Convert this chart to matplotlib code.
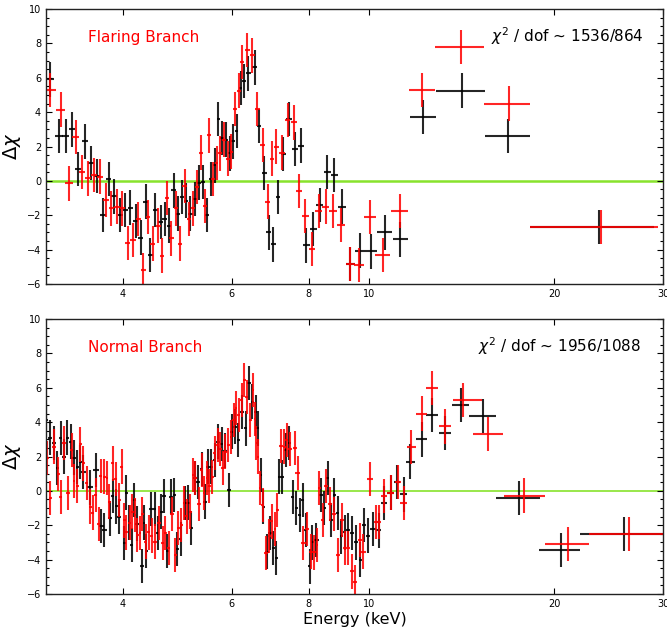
import numpy as np
import matplotlib
matplotlib.use("Agg")
import matplotlib.pyplot as plt
from matplotlib.ticker import MultipleLocator, NullLocator, FixedLocator, FixedFormatter

# ---- Flaring branch (top panel) ----
fb_black_e = [3.04, 3.15, 3.23, 3.31, 3.38, 3.47, 3.55, 3.63, 3.71, 3.79, 3.87, 3.96,
              4.03, 4.11, 4.19, 4.27, 4.35, 4.43, 4.51, 4.60, 4.67, 4.75, 4.83, 4.91,
              4.98, 5.06, 5.14, 5.23, 5.31, 5.39, 5.47, 5.56, 5.63, 5.71, 5.79, 5.87,
              5.95, 6.03, 6.11, 6.20, 6.29, 6.38, 6.54, 6.64, 6.77, 6.89, 7.01, 7.13,
              7.27, 7.42, 7.59, 7.76, 7.93, 8.13, 8.34, 8.57, 8.80, 9.04, 9.34, 9.69,
              10.10, 10.62, 11.25]
fb_black_r = [5.9, 2.6, 2.6, 3.0, 0.7, 2.3, 1.05, 0.3, -2.0, 0.1, -0.9, -2.0,
              -1.7, -1.55, -2.35, -3.3, -1.2, -4.3, -1.7, -2.4, -2.2, -2.6, -0.55, -1.9,
              -0.95, -1.15, -1.9, -1.05, -0.1, -0.05, -2.0, 0.1, 0.9, 3.6, 2.5, 2.4,
              1.6, 2.3, 2.9, 5.4, 5.8, 6.25, 6.6, 3.2, 0.45, -3.0, -3.7, -0.95,
              1.55, 3.6, 1.85, 2.05, -3.75, -2.8, -1.4, 0.5, 0.35, -1.5, -4.85, -4.05,
              -4.1, -3.0, -3.4]
fb_black_wide_e = [12.26, 14.16, 16.82, 23.6]
fb_black_wide_r = [3.7, 5.25, 2.6, -2.7]
fb_black_wide_lo = [11.69, 12.86, 15.45, 18.24]
fb_black_wide_hi = [12.86, 15.45, 18.24, 29.0]

fb_red_e = [3.05, 3.17, 3.27, 3.35, 3.43, 3.51, 3.59, 3.67, 3.75, 3.83, 3.91, 3.99,
            4.07, 4.15, 4.23, 4.31, 4.39, 4.47, 4.56, 4.63, 4.71, 4.79, 4.87, 4.95,
            5.03, 5.11, 5.19, 5.27, 5.35, 5.43, 5.51, 5.59, 5.67, 5.75, 5.83, 5.91,
            5.99, 6.07, 6.16, 6.24, 6.36, 6.48, 6.60, 6.73, 6.86, 6.97, 7.09, 7.24,
            7.39, 7.56, 7.72, 7.90, 8.10, 8.30, 8.52, 8.75, 9.02, 9.34, 9.64, 10.06,
            10.55, 11.23]
fb_red_r = [5.3, 4.15, -0.15, 2.55, 0.5, 0.15, 0.35, 0.25, -1.1, -1.6, -1.5, -1.6,
            -3.6, -3.45, -2.2, -5.2, -2.1, -3.65, -2.6, -4.35, -1.0, -3.35, -1.6, -3.65,
            -0.3, -2.2, -1.6, -0.35, 1.65, -1.45, 2.65, 0.1, 1.05, 1.6, 2.4, 1.3,
            1.7, 4.2, 5.25, 6.9, 7.6, 7.3, 4.2, 2.1, -1.2, 1.3, 2.0, 1.65,
            3.55, 3.4, -0.6, -2.05, -3.95, -1.75, -1.5, -1.75, -2.55, -4.85, -4.9, -2.1,
            -4.3, -1.75]
fb_red_wide_e = [12.21, 14.10, 16.86, 23.8]
fb_red_wide_r = [5.3, 7.8, 4.5, -2.7]
fb_red_wide_lo = [11.62, 12.81, 15.39, 18.24]
fb_red_wide_hi = [12.81, 15.39, 18.24, 29.5]

# ---- Normal branch (bottom panel) ----
nb_black_e = [3.00, 3.05, 3.09, 3.13, 3.17, 3.21, 3.25, 3.29, 3.33, 3.37, 3.41, 3.45,
              3.53, 3.61, 3.69, 3.73, 3.81, 3.85, 3.90, 3.94, 4.02, 4.05, 4.09, 4.13,
              4.17, 4.21, 4.29, 4.33, 4.36, 4.44, 4.50, 4.55, 4.61, 4.66, 4.72, 4.78,
              4.84, 4.90, 4.96, 5.03, 5.10, 5.16, 5.23, 5.29, 5.36, 5.43, 5.49, 5.56,
              5.63, 5.70, 5.78, 5.85, 5.94, 6.00, 6.07, 6.15, 6.24, 6.32, 6.40, 6.48,
              6.56, 6.62, 6.69, 6.75, 6.84, 6.92, 7.00, 7.08, 7.16, 7.25, 7.34, 7.44,
              7.53, 7.64, 7.73, 7.82, 7.91, 8.02, 8.11, 8.23, 8.37, 8.48, 8.58, 8.69,
              8.80, 8.91, 9.03, 9.14, 9.25, 9.39, 9.55, 9.70, 9.82, 9.98, 10.16, 10.38,
              10.59, 10.86, 11.12, 11.40, 11.69, 12.19, 12.68, 13.28]
nb_black_r = [4.13, 3.1, 2.77, 1.32, 3.06, 2.0, 3.1, 2.87, 1.94, 1.38, 1.67, 1.1,
              0.2, 1.22, -2.03, -2.27, -1.6, -0.3, -0.9, -1.5, -3.05, -0.1, -1.85, -3.15,
              -0.52, -1.9, -4.36, -1.85, -3.5, -1.07, -1.07, -2.46, -1.2, -0.3, -3.5, -0.33,
              -0.23, -3.4, -2.8, -0.7, -0.68, -2.17, 0.74, 0.5, 1.26, -0.62, 1.41, 1.41,
              1.8, 2.87, 2.73, 2.34, 0.06, 3.45, 3.74, 2.96, 4.6, 3.64, 6.26, 5.2,
              4.6, 3.64, 0.93, -0.91, -3.53, -2.46, -3.33, -3.91, 0.83, 0.79, 2.38, 2.77,
              -0.37, -1.0, -1.4, -0.52, -2.27, -4.4, -3.0, -2.85, -0.23, -1.0, 0.74, -1.69,
              -0.23, -1.3, -2.65, -2.42, -2.27, -2.46, -3.0, -4.0, -2.0, -2.6, -2.2, -2.3,
              -0.7, -0.1, 0.5, -0.2, 1.7, 3.0, 4.4, 3.35]
nb_black_wide_e = [14.11, 15.35, 17.50, 20.47, 25.89]
nb_black_wide_r = [5.0, 4.35, -0.4, -3.45, -2.5]
nb_black_wide_lo = [13.64, 14.57, 16.10, 18.90, 22.00]
nb_black_wide_hi = [14.57, 16.10, 18.94, 22.00, 30.0]

nb_red_e = [3.01, 3.05, 3.09, 3.14, 3.17, 3.21, 3.26, 3.30, 3.33, 3.37, 3.41, 3.45,
            3.49, 3.54, 3.57, 3.61, 3.65, 3.68, 3.73, 3.77, 3.80, 3.85, 3.89, 3.94,
            3.98, 4.02, 4.05, 4.10, 4.14, 4.18, 4.22, 4.26, 4.30, 4.35, 4.40, 4.45,
            4.51, 4.58, 4.64, 4.68, 4.74, 4.80, 4.86, 4.91, 4.97, 5.02, 5.07, 5.14,
            5.19, 5.24, 5.31, 5.36, 5.41, 5.47, 5.52, 5.58, 5.63, 5.69, 5.75, 5.80,
            5.86, 5.92, 5.98, 6.04, 6.10, 6.16, 6.23, 6.29, 6.35, 6.43, 6.50, 6.55,
            6.58, 6.62, 6.67, 6.73, 6.82, 6.90, 6.97, 7.05, 7.11, 7.21, 7.30, 7.37,
            7.46, 7.60, 7.67, 7.84, 7.94, 8.07, 8.17, 8.25, 8.32, 8.42, 8.53, 8.67,
            8.78, 8.91, 9.05, 9.14, 9.25, 9.39, 9.51, 9.70, 9.80, 10.05, 10.27, 10.39,
            10.59, 10.86, 11.16, 11.40, 11.73, 12.19, 12.68, 13.30]
nb_red_r = [1.92, -0.4, 2.58, 0.97, -0.37, 2.77, -0.14, 2.38, 0.58, 0.29, 2.7, 1.6,
            0.45, -0.91, -1.26, -0.23, -1.92, 0.87, 0.83, 0.74, -0.62, 1.6, 0.68, -0.52,
            1.41, -1.72, -2.42, -1.84, -1.2, -1.4, -2.56, -2.46, -1.34, -2.95, -2.42, -2.6,
            -2.95, -1.88, -3.04, -2.46, -3.33, -1.34, -3.72, -2.17, -1.98, -0.72, -1.49, -1.2,
            0.93, 0.74, -0.78, 1.22, -0.14, 0.74, 0.29, 0.79, 2.19, 2.67, 2.42, 1.32,
            2.29, 2.67, 3.12, 4.13, 4.81, 4.42, 5.29, 6.45, 5.48, 4.13, 5.87, 4.2,
            2.77, 2.0, 0.16, -0.81, -3.62, -2.62, -1.78, -2.23, -1.1, 2.62, 2.58, 2.97,
            2.42, 2.48, 1.03, -3.04, -2.23, -3.53, -3.58, -3.14, 0.16, -1.69, 0.29, -0.76,
            -1.34, -3.72, -1.69, -3.33, -3.33, -4.69, -5.33, -2.85, -3.53, 0.7, -1.8, -1.8,
            -0.3, -0.1, 0.5, -0.7, 2.55, 4.5, 6.0, 3.75]
nb_red_wide_e = [14.24, 15.61, 17.84, 21.03, 26.38]
nb_red_wide_r = [5.3, 3.3, -0.27, -3.1, -2.5]
nb_red_wide_lo = [13.72, 14.75, 16.55, 19.28, 22.79]
nb_red_wide_hi = [15.26, 16.51, 19.28, 22.79, 29.97]

xticks = [4, 6, 8, 10, 20, 30]
xtick_labels = ["4", "6", "8", "10", "20", "30"]


def draw_series(ax, e, r, we, wr, wlo, whi, color):
    e = np.array(e)
    # contiguous bins: half the spacing between neighbouring channels
    half = 0.5 * np.gradient(e)
    ax.errorbar(e, r, xerr=half, yerr=1.0, fmt="none", ecolor=color,
                elinewidth=1.5, alpha=0.85, capsize=0)
    we = np.array(we)
    xerr = [we - np.array(wlo), np.array(whi) - we]
    ax.errorbar(we, wr, xerr=xerr, yerr=1.0, fmt="none", ecolor=color,
                elinewidth=1.5, alpha=0.85, capsize=0)


def setup_axis(ax, zero_lw):
    ax.set_xscale("log")
    ax.set_xlim(3, 30)
    ax.set_ylim(-6, 10)
    ax.axhline(0, color="#88e32c", lw=zero_lw, zorder=1)
    ax.xaxis.set_major_locator(FixedLocator(xticks))
    ax.xaxis.set_major_formatter(FixedFormatter(xtick_labels))
    ax.xaxis.set_minor_locator(NullLocator())
    ax.yaxis.set_major_locator(MultipleLocator(2))
    ax.yaxis.set_minor_locator(MultipleLocator(0.5))
    ax.tick_params(which="both", direction="in", top=True, right=True,
                   labelsize=7, width=0.8)
    ax.tick_params(which="major", length=4)
    ax.tick_params(which="minor", length=2)
    for s in ax.spines.values():
        s.set_linewidth(1.0)
        s.set_color("#222222")
    ax.set_ylabel(r"$\Delta\chi$", fontsize=14)
    ax.yaxis.set_label_coords(-0.037, 0.5)


fig = plt.figure(figsize=(6.67, 6.34), dpi=100)
ax1 = fig.add_axes([0.069, 0.552, 0.925, 0.4338])
ax2 = fig.add_axes([0.069, 0.0631, 0.925, 0.4337])

setup_axis(ax1, 1.8)
draw_series(ax1, fb_black_e, fb_black_r, fb_black_wide_e, fb_black_wide_r,
            fb_black_wide_lo, fb_black_wide_hi, "black")
draw_series(ax1, fb_red_e, fb_red_r, fb_red_wide_e, fb_red_wide_r,
            fb_red_wide_lo, fb_red_wide_hi, "red")
ax1.text(0.068, 0.895, "Flaring Branch", color="red", fontsize=11,
         transform=ax1.transAxes, ha="left", va="center")
ax1.text(0.968, 0.902, r"$\chi^2$ / dof ~ 1536/864", color="black", fontsize=11,
         transform=ax1.transAxes, ha="right", va="center")

setup_axis(ax2, 1.2)
draw_series(ax2, nb_black_e, nb_black_r, nb_black_wide_e, nb_black_wide_r,
            nb_black_wide_lo, nb_black_wide_hi, "black")
draw_series(ax2, nb_red_e, nb_red_r, nb_red_wide_e, nb_red_wide_r,
            nb_red_wide_lo, nb_red_wide_hi, "red")
ax2.text(0.068, 0.895, "Normal Branch", color="red", fontsize=11,
         transform=ax2.transAxes, ha="left", va="center")
ax2.text(0.965, 0.9, r"$\chi^2$ / dof ~ 1956/1088", color="black", fontsize=11,
         transform=ax2.transAxes, ha="right", va="center")
ax2.set_xlabel("Energy (keV)", fontsize=11.5, labelpad=2)

fig.savefig("out.png", dpi=100)
